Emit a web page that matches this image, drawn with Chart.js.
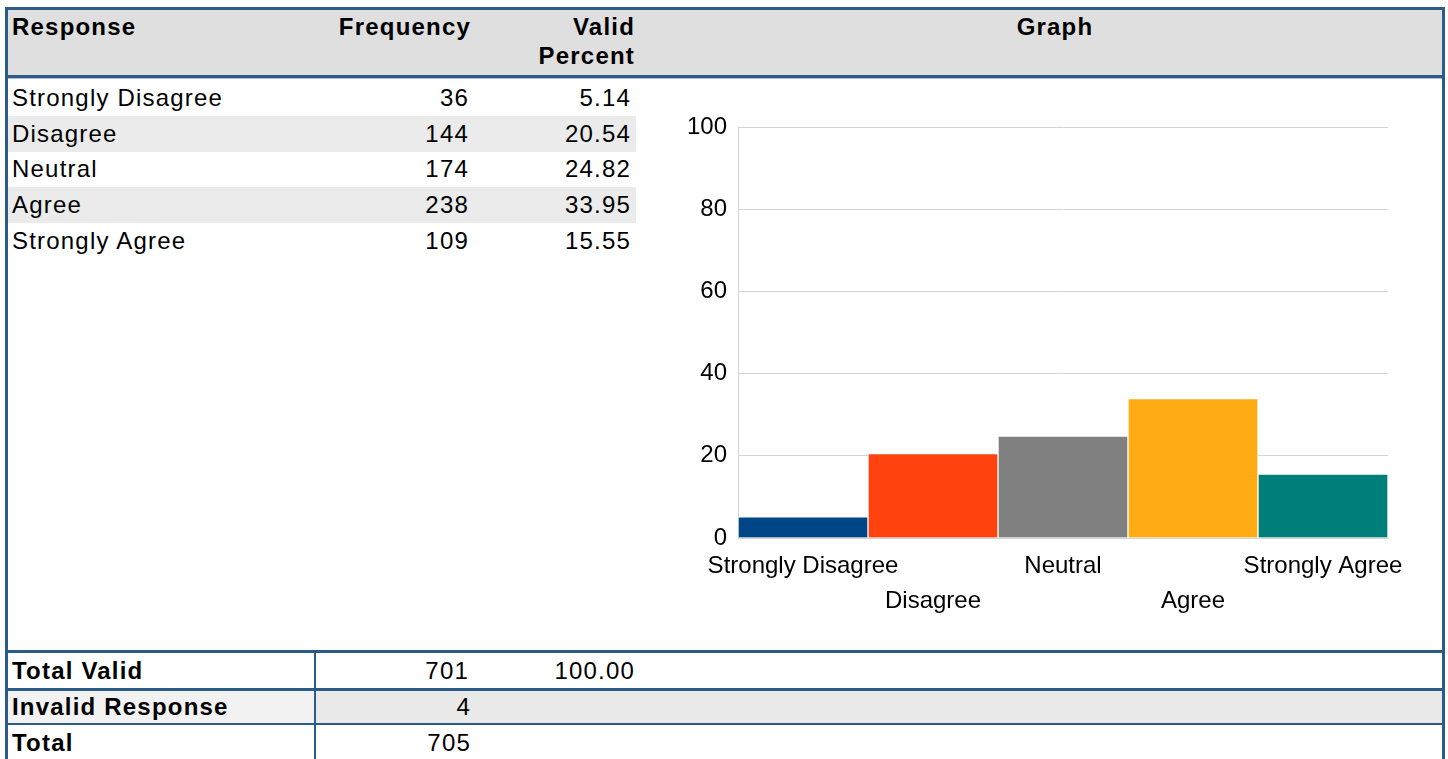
<!DOCTYPE html>
<html>
<head>
<meta charset="utf-8">
<script src="https://cdn.jsdelivr.net/npm/chart.js@4"></script>
<style>
    html, body {
        margin: 0;
        padding: 0;
        background: #ffffff;
    }
    body {
        position: relative;
        width: 1448px;
        height: 759px;
        overflow: hidden;
        font-family: "Liberation Sans", Arial, sans-serif;
        color: #000;
    }
    .abs { position: absolute; }
    .line { position: absolute; background: #2b5c87; }
    .txt {
        position: absolute;
        font-size: 24px;
        line-height: 29px;
        letter-spacing: 1.2px;
        white-space: nowrap;
    }
    .bold { font-weight: bold; }
    .right { text-align: right; }
</style>
</head>
<body>

<!-- bordures extérieures -->
<div class="line" style="left:5px; top:7px; width:3px; height:752px;"></div>
<div class="line" style="left:1442px; top:7px; width:3px; height:752px;"></div>

<!-- en-tête -->
<div class="line" style="left:5px; top:7px; width:1440px; height:3px;"></div>
<div class="abs" style="left:8px; top:10px; width:1434px; height:65px; background:#dfdfdf;"></div>
<div class="line" style="left:5px; top:75px; width:1440px; height:3px;"></div>
<div class="abs" style="left:8px; top:78px; width:1434px; height:1px; background:#a9bfd3;"></div>

<div class="txt bold" style="left:12px; top:12px;">Response</div>
<div class="txt bold right" style="right:977px; top:12px;">Frequency</div>
<div class="txt bold right" style="right:813px; top:12px;">Valid<br>Percent</div>
<div class="txt bold" style="left:668px; width:774px; top:12px; text-align:center;">Graph</div>

<div id="rows"></div>

<!-- zone du graphique -->
<div class="abs" style="left:660px; top:100px; width:760px; height:520px;">
    <canvas id="graph"></canvas>
</div>

<!-- lignes du bas -->
<div class="line" style="left:5px; top:650px; width:1440px; height:3px;"></div>
<div class="line" style="left:5px; top:688px; width:1440px; height:3px;"></div>
<div class="abs" style="left:8px; top:691px; width:306px; height:32px; background:#f2f2f2;"></div>
<div class="abs" style="left:316px; top:691px; width:1126px; height:32px; background:#e9e9e9;"></div>
<div class="line" style="left:5px; top:723px; width:1440px; height:2px;"></div>
<div class="line" style="left:314px; top:653px; width:2px; height:106px;"></div>

<div class="txt bold" style="left:12px; top:656px;">Total Valid</div>
<div class="txt right" id="totalValid" style="right:979px; top:656px;"></div>
<div class="txt right" id="totalPercent" style="right:813px; top:656px;"></div>

<div class="txt bold" style="left:12px; top:692px;">Invalid Response</div>
<div class="txt right" id="invalid" style="right:977px; top:692px;"></div>

<div class="txt bold" style="left:12px; top:728px;">Total</div>
<div class="txt right" id="total" style="right:977px; top:728px;"></div>

<script>
// ========== DONNÉES ==========
const categories = ['Strongly Disagree', 'Disagree', 'Neutral', 'Agree', 'Strongly Agree'];
const frequencies = [36, 144, 174, 238, 109];
const validPercent = [5.14, 20.54, 24.82, 33.95, 15.55];
const totalValid = 701;
const totalPercent = '100.00';
const invalidResponses = 4;
const totalResponses = 705;

const barColors = ['#004586', '#ff420e', '#808080', '#ffab14', '#007f7a'];

// ========== TABLEAU ==========
const rows = document.getElementById('rows');
const rowTops = [80, 116, 151, 187, 223];

categories.forEach((cat, i) => {
    const top = rowTops[i];
    if (i % 2 === 1) {
        const stripe = document.createElement('div');
        stripe.className = 'abs';
        stripe.style.cssText = `left:8px; top:${top}px; width:628px; height:36px; background:#ebebeb;`;
        rows.appendChild(stripe);
    }
    const ty = top + 3;
    rows.insertAdjacentHTML('beforeend', `
        <div class="txt" style="left:12px; top:${ty}px;">${cat}</div>
        <div class="txt right" style="right:979px; top:${ty}px;">${frequencies[i]}</div>
        <div class="txt right" style="right:817px; top:${ty}px;">${validPercent[i].toFixed(2)}</div>
    `);
});

document.getElementById('totalValid').textContent = totalValid;
document.getElementById('totalPercent').textContent = totalPercent;
document.getElementById('invalid').textContent = invalidResponses;
document.getElementById('total').textContent = totalResponses;

// ========== GRAPHIQUE ==========
const ctx = document.getElementById('graph').getContext('2d');
const gridColor = '#d4d4d4';
const tickFont = { family: 'Liberation Sans', size: 24 };

const graph = new Chart(ctx, {
    type: 'bar',
    data: {
        labels: categories,
        datasets: [{
            label: 'Valid Percent',
            data: validPercent,
            backgroundColor: barColors,
            borderColor: '#ffffff',
            borderWidth: 1,
            barPercentage: 1,
            categoryPercentage: 1
        }]
    },
    options: {
        responsive: true,
        maintainAspectRatio: false,
        animation: false,
        layout: {
            padding: { top: 27, right: 32, left: 0, bottom: 0 }
        },
        plugins: {
            legend: { display: false },
            tooltip: { enabled: false }
        },
        scales: {
            x: {
                grid: { display: false },
                border: { color: gridColor },
                ticks: {
                    color: '#000',
                    font: { family: 'Liberation Sans', size: 24, lineHeight: '35px' },
                    autoSkip: false,
                    maxRotation: 0,
                    minRotation: 0,
                    padding: 3,
                    // étiquettes décalées une sur deux
                    callback: function (value, index) {
                        const label = this.getLabelForValue(value);
                        return index % 2 ? ['', label] : label;
                    }
                },
                afterFit: (scale) => { scale.height = 82; }
            },
            y: {
                min: 0,
                max: 100,
                grid: { color: gridColor, drawTicks: false },
                border: { color: gridColor },
                ticks: {
                    stepSize: 20,
                    color: '#000',
                    font: tickFont,
                    padding: 11
                },
                afterFit: (scale) => { scale.width = 78; }
            }
        }
    }
});
</script>
</body>
</html>
